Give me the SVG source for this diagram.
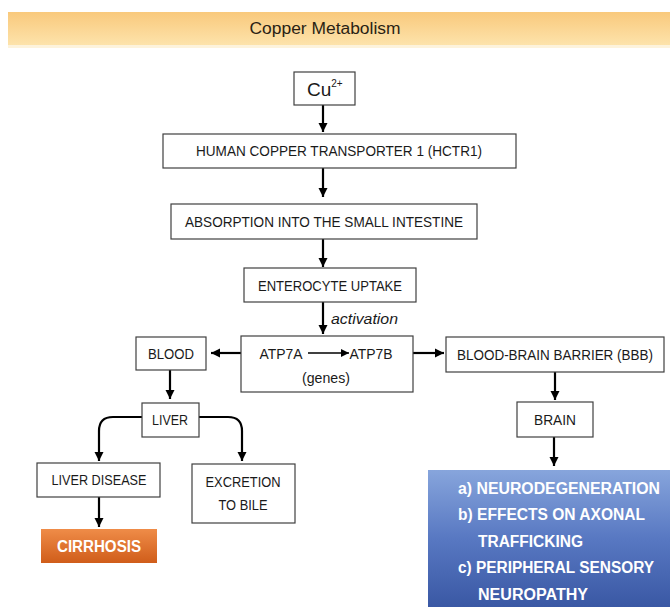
<svg xmlns="http://www.w3.org/2000/svg" width="670" height="607" viewBox="0 0 670 607">
<defs>
<linearGradient id="gTitle" x1="0" y1="0" x2="0" y2="1">
<stop offset="0" stop-color="#f9c97c"/>
<stop offset="1" stop-color="#fde3ab"/>
</linearGradient>
<linearGradient id="gOrange" x1="0" y1="0" x2="0" y2="1">
<stop offset="0" stop-color="#ef8c48"/>
<stop offset="1" stop-color="#d05d1a"/>
</linearGradient>
<linearGradient id="gBlue" x1="0" y1="0" x2="0" y2="1">
<stop offset="0" stop-color="#87a5dc"/>
<stop offset="0.5" stop-color="#5878c2"/>
<stop offset="1" stop-color="#3a58a4"/>
</linearGradient>
<marker id="ah" markerUnits="userSpaceOnUse" markerWidth="10" markerHeight="10" refX="9" refY="5" orient="auto">
<path d="M0,0.5 L9,5 L0,9.5 z" fill="#000"/>
</marker>
<marker id="ahs" markerUnits="userSpaceOnUse" markerWidth="9" markerHeight="9" refX="8" refY="4.5" orient="auto">
<path d="M0,0.5 L8,4.5 L0,8.5 z" fill="#000"/>
</marker>
</defs>
<style>
.box{fill:#fff;stroke:#404040;stroke-width:1.2}
.t{font-family:"Liberation Sans",Arial,sans-serif;font-size:15px;fill:#1a1a1a;text-anchor:middle}
.w{font-family:"Liberation Sans",Arial,sans-serif;font-size:16px;font-weight:bold;fill:#fff}
.c{fill:none;stroke:#000;stroke-width:2.2}
</style>
<rect width="670" height="607" fill="#fff"/>
<g id="title">
<rect x="8" y="12" width="662" height="33" fill="url(#gTitle)"/>
<rect x="8" y="45" width="662" height="3" fill="#fdf3dc"/>
<text x="325" y="34" class="t" style="font-size:16px;fill:#2a1f14" textLength="151" lengthAdjust="spacingAndGlyphs">Copper Metabolism</text>
</g>
<g id="connectors">
<line class="c" x1="323" y1="105" x2="323" y2="132" marker-end="url(#ah)"/>
<line class="c" x1="323" y1="168" x2="323" y2="197" marker-end="url(#ah)"/>
<line class="c" x1="323" y1="239" x2="323" y2="267" marker-end="url(#ah)"/>
<line class="c" x1="323" y1="302" x2="323" y2="334" marker-end="url(#ah)"/>
<line class="c" x1="241" y1="353" x2="211" y2="353" marker-end="url(#ah)"/>
<line class="c" x1="413" y1="353" x2="444" y2="353" marker-end="url(#ah)"/>
<line class="c" x1="170" y1="370" x2="170" y2="399" marker-end="url(#ah)"/>
<path class="c" d="M142,417 H113 Q99,417 99,431 V461" marker-end="url(#ah)"/>
<path class="c" d="M199,417 H228 Q242,417 242,431 V461" marker-end="url(#ah)"/>
<line class="c" x1="99" y1="497" x2="99" y2="527" marker-end="url(#ah)"/>
<line class="c" x1="555" y1="372" x2="555" y2="400" marker-end="url(#ah)"/>
<line class="c" x1="554" y1="437" x2="554" y2="466" marker-end="url(#ah)"/>
<text x="331" y="324" style="font-family:'Liberation Sans',Arial,sans-serif;font-size:15px;font-style:italic;fill:#1a1a1a" textLength="67" lengthAdjust="spacingAndGlyphs">activation</text>
</g>
<g id="cu">
<rect class="box" x="294" y="72" width="61" height="33"/>
<text x="307" y="96" style="font-family:'Liberation Sans',Arial,sans-serif;font-size:19px;fill:#1a1a1a">Cu<tspan dy="-9" style="font-size:10px">2+</tspan></text>
</g>
<g id="hctr1">
<rect class="box" x="163" y="134" width="353" height="34"/>
<text x="339" y="156" class="t" textLength="286" lengthAdjust="spacingAndGlyphs">HUMAN COPPER TRANSPORTER 1 (HCTR1)</text>
</g>
<g id="absorption">
<rect class="box" x="171" y="204" width="306" height="35"/>
<text x="324" y="227" class="t" textLength="278" lengthAdjust="spacingAndGlyphs">ABSORPTION INTO THE SMALL INTESTINE</text>
</g>
<g id="enterocyte">
<rect class="box" x="244" y="268" width="172" height="34"/>
<text x="330" y="291" class="t" textLength="144" lengthAdjust="spacingAndGlyphs">ENTEROCYTE UPTAKE</text>
</g>
<g id="atp">
<rect class="box" x="241" y="336" width="172" height="56"/>
<text x="281" y="359" class="t" textLength="43" lengthAdjust="spacingAndGlyphs">ATP7A</text>
<line x1="308" y1="353" x2="349" y2="353" stroke="#000" stroke-width="1.3" marker-end="url(#ahs)"/>
<text x="371" y="359" class="t" textLength="43" lengthAdjust="spacingAndGlyphs">ATP7B</text>
<text x="326" y="383" class="t" textLength="48" lengthAdjust="spacingAndGlyphs">(genes)</text>
</g>
<g id="blood">
<rect class="box" x="136" y="337" width="70" height="33"/>
<text x="171" y="359" class="t" textLength="46" lengthAdjust="spacingAndGlyphs">BLOOD</text>
</g>
<g id="bbb">
<rect class="box" x="446" y="337" width="218" height="35"/>
<text x="555" y="360" class="t" style="font-size:14px" textLength="196" lengthAdjust="spacingAndGlyphs">BLOOD-BRAIN BARRIER (BBB)</text>
</g>
<g id="liver">
<rect class="box" x="142" y="403" width="57" height="34"/>
<text x="170" y="425" class="t" textLength="36" lengthAdjust="spacingAndGlyphs">LIVER</text>
</g>
<g id="brain">
<rect class="box" x="517" y="402" width="76" height="35"/>
<text x="555" y="425" class="t" textLength="42" lengthAdjust="spacingAndGlyphs">BRAIN</text>
</g>
<g id="liverdisease">
<rect class="box" x="37" y="463" width="123" height="34"/>
<text x="99" y="485" class="t" textLength="95" lengthAdjust="spacingAndGlyphs">LIVER DISEASE</text>
</g>
<g id="excretion">
<rect class="box" x="192" y="464" width="103" height="59"/>
<text x="243" y="487" class="t" textLength="75" lengthAdjust="spacingAndGlyphs">EXCRETION</text>
<text x="243" y="510" class="t" textLength="49" lengthAdjust="spacingAndGlyphs">TO BILE</text>
</g>
<g id="cirrhosis">
<rect x="41" y="529" width="116" height="34" fill="url(#gOrange)"/>
<text x="99" y="552" class="w" text-anchor="middle" textLength="84" lengthAdjust="spacingAndGlyphs">CIRRHOSIS</text>
</g>
<g id="effects">
<rect x="428" y="470" width="242" height="137" fill="url(#gBlue)"/>
<text x="458" y="494" class="w" textLength="202" lengthAdjust="spacingAndGlyphs">a) NEURODEGENERATION</text>
<text x="458" y="520" class="w" textLength="187" lengthAdjust="spacingAndGlyphs">b) EFFECTS ON AXONAL</text>
<text x="478" y="547" class="w" textLength="105" lengthAdjust="spacingAndGlyphs">TRAFFICKING</text>
<text x="458" y="573" class="w" textLength="196" lengthAdjust="spacingAndGlyphs">c) PERIPHERAL SENSORY</text>
<text x="478" y="600" class="w" textLength="110" lengthAdjust="spacingAndGlyphs">NEUROPATHY</text>
</g>
</svg>
